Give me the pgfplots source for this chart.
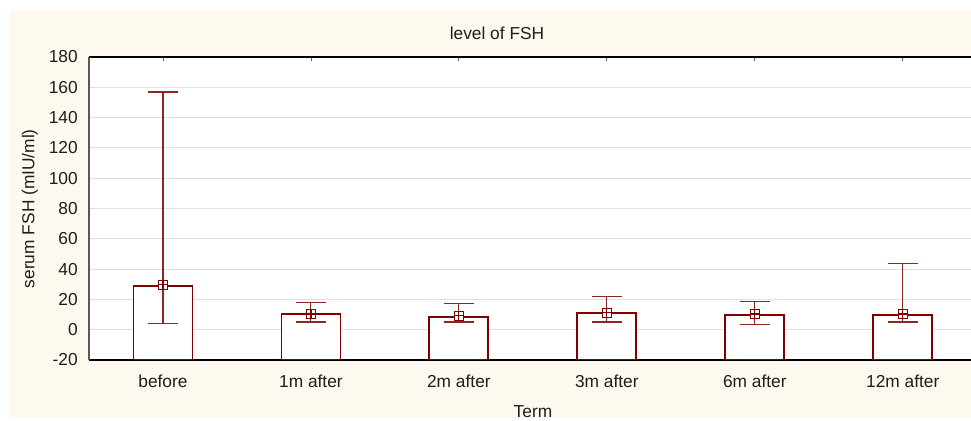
\documentclass[border=0pt]{standalone}
\usepackage{fontspec}
\setmainfont{Liberation Sans}
\usepackage{pgfplots}
\pgfplotsset{compat=1.18}
\usepackage{pgfplotstable}
\definecolor{bgcream}{HTML}{FDF9EE}
\definecolor{barred}{HTML}{800000}
\definecolor{whisk}{HTML}{922424}
\definecolor{gridgray}{HTML}{E0E0E0}
\definecolor{textgray}{HTML}{1E1E1E}

% x: category, bar: bar height, mean: marker, lo/hi: whisker ends
\pgfplotstableread{
x bar mean lo hi
0 29.0 29.7 3.8 156.9
1 10.2 10.4 5.1 18.1
2 8.6 9.2 5.1 17.4
3 10.8 11.2 5.1 21.8
4 9.9 10.4 3.3 18.9
5 9.9 10.4 5.1 44.0
}\fsh

\begin{document}
\begin{tikzpicture}[font=\fontsize{13}{15}\selectfont]
\useasboundingbox (-66.75pt,-45.75pt) rectangle (661.5pt,270pt);
\clip (-66.75pt,-45.75pt) rectangle (661.5pt,270pt);
\fill[bgcream] (-59.25pt,-43.5pt) rectangle (661.5pt,262.5pt);
\begin{axis}[
  at={(0pt,0pt)}, anchor=south west,
  scale only axis, width=665.8pt, height=227.25pt,
  xmin=-0.5, xmax=5.5, ymin=0, ymax=200,
  axis background/.style={fill=white},
  xtick={0,...,5},
  xticklabels={before,1m after,2m after,3m after,6m after,12m after},
  ytick={0,20,...,200},
  yticklabels={-20,0,20,40,60,80,100,120,140,160,180},
  tick align=inside,
  major tick length=3pt,
  xtick style={draw=black!65, line width=0.6pt},
  ytick style={draw=none},
  ymajorgrids,
  grid style={gridgray, line width=0.8pt},
  separate axis lines,
  x axis line style={black, line width=0.8pt},
  y axis line style={black!65, line width=0.8pt},
  every tick label/.append style={font=\fontsize{13}{15}\selectfont, text=textgray},
  xticklabel style={anchor=base, inner sep=0pt, yshift=-20.25pt},
  yticklabel style={anchor=east, inner sep=0pt, xshift=-8.25pt},
]
\addplot[ybar, bar width=44.25pt, fill=white, draw=barred, line width=1.4pt]
  table[x=x, y expr=\thisrow{bar}+20]{\fsh};
\addplot[only marks, mark=none,
  error bars/.cd, y dir=both, y explicit, error mark=|,
  error bar style={whisk, line width=0.8pt},
  error mark options={whisk, line width=0.8pt, mark size=11.25pt}]
  table[x=x, y expr=\thisrow{mean}+20,
        y error plus expr=\thisrow{hi}-\thisrow{mean},
        y error minus expr=\thisrow{mean}-\thisrow{lo}]{\fsh};
\addplot[only marks, mark=square*, mark size=3.4pt,
  mark options={draw=barred, fill=white, line width=0.9pt}]
  table[x=x, y expr=\thisrow{mean}+20]{\fsh};
\addplot[only marks, mark=+, mark size=3.4pt,
  mark options={draw=barred, line width=0.9pt}]
  table[x=x, y expr=\thisrow{mean}+20]{\fsh};
\end{axis}
\node[text=textgray] at (306pt,245.25pt) {level of FSH};
\node[text=textgray] at (333pt,-38.6pt) {Term};
\node[text=textgray, rotate=90] at (-44.25pt,113.5pt) {serum FSH (mIU/ml)};
\end{tikzpicture}
\end{document}
